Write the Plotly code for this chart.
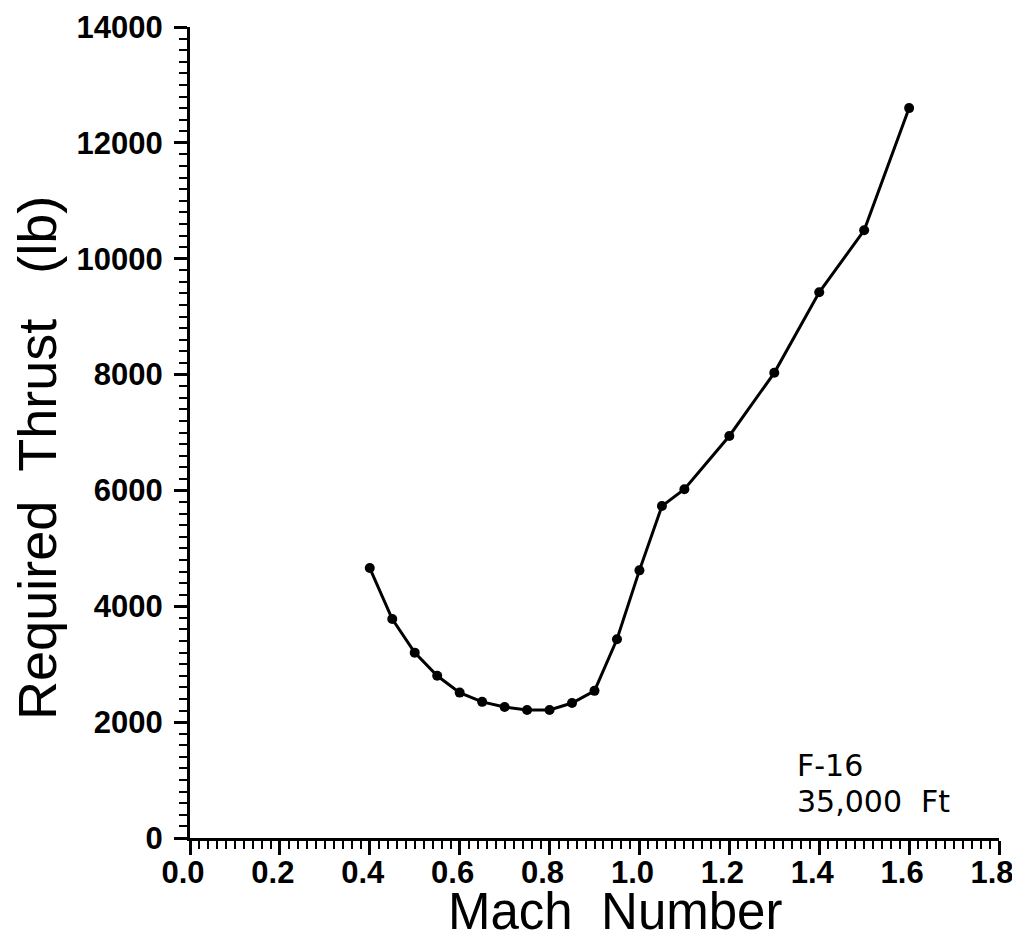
import plotly.graph_objects as go

mach = [0.4, 0.45, 0.5, 0.55, 0.6, 0.65, 0.7, 0.75, 0.8, 0.85, 0.9, 0.95,
        1.0, 1.05, 1.1, 1.2, 1.3, 1.4, 1.5, 1.6]
thrust = [4660, 3780, 3200, 2800, 2510, 2350, 2260, 2210, 2210, 2330, 2540, 3430,
          4620, 5730, 6020, 6940, 8030, 9420, 10490, 12600]

x_ticks = [0.0, 0.2, 0.4, 0.6, 0.8, 1.0, 1.2, 1.4, 1.6, 1.8]
x_labels = ["0.0", "0.2", "0.4", "0.6", "0.8", "1.0", "1.2", "1.4", "1.6", "1.8"]
y_ticks = [0, 2000, 4000, 6000, 8000, 10000, 12000, 14000]
y_labels = ["0", "2000", "4000", "6000", "8000", "10000", "12000", "14000"]

tick_font = dict(family="Liberation Sans", size=31, color="black", weight="bold")

fig = go.Figure()
fig.add_trace(go.Scatter(
    x=mach, y=thrust, mode="lines+markers",
    line=dict(color="black", width=3),
    marker=dict(symbol="circle", size=10, color="black"),
    showlegend=False,
))

fig.update_layout(
    width=1012, height=929,
    margin=dict(l=182, r=21, t=19, b=99),
    paper_bgcolor="white", plot_bgcolor="white",
    xaxis=dict(
        range=[0, 1.8], tickvals=x_ticks, ticktext=x_labels, automargin=False,
        showgrid=False, zeroline=False, showline=True, linecolor="black", linewidth=3,
        ticks="outside", ticklen=14, tickwidth=3, tickcolor="black",
        tickfont=tick_font, ticklabelstandoff=-9, ticklabelshift=-7,
        ticklabeloverflow="allow",
        minor=dict(dtick=0.02, ticks="outside", ticklen=8, tickwidth=2, tickcolor="black"),
    ),
    yaxis=dict(
        range=[0, 14000], tickvals=y_ticks, ticktext=y_labels, automargin=False,
        showgrid=False, zeroline=False, showline=True, linecolor="black", linewidth=3,
        ticks="outside", ticklen=13, tickwidth=3, tickcolor="black",
        tickfont=tick_font, ticklabelstandoff=5, ticklabeloverflow="allow",
        minor=dict(dtick=200, ticks="outside", ticklen=8, tickwidth=2, tickcolor="black"),
    ),
    annotations=[
        dict(text="Mach  Number", xref="paper", yref="paper", x=0.525, y=-0.091,
             xanchor="center", yanchor="middle", showarrow=False,
             font=dict(family="Liberation Sans", size=51, color="black")),
        dict(text="Required  Thrust   (lb)", xref="paper", yref="paper", x=-0.190, y=0.469,
             xanchor="center", yanchor="middle", showarrow=False, textangle=-90,
             font=dict(family="Liberation Sans", size=54, color="black")),
        dict(text="F-16", xref="paper", yref="paper", x=0.748, y=0.090,
             xanchor="left", yanchor="middle", showarrow=False, align="left",
             font=dict(family="DejaVu Sans", size=30, color="black")),
        dict(text="35,000  Ft", xref="paper", yref="paper", x=0.748, y=0.0456,
             xanchor="left", yanchor="middle", showarrow=False, align="left",
             font=dict(family="DejaVu Sans", size=30, color="black")),
    ],
)

fig.write_html("out.html")
